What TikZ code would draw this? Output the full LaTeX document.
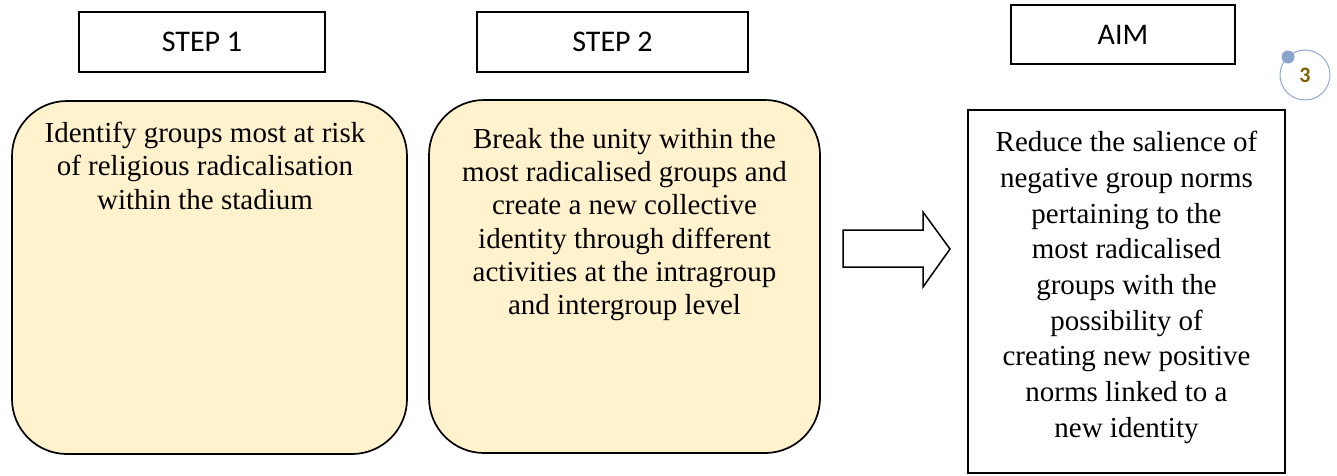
\documentclass[tikz,border=0pt]{standalone}
\usepackage{fontspec}
\setmainfont{Liberation Serif}
\newfontfamily\calib{Carlito}
\definecolor{boxfill}{HTML}{FFF2CC}
\definecolor{ringblue}{RGB}{143,170,215}
\definecolor{dotblue}{RGB}{138,164,204}
\definecolor{numgold}{RGB}{127,96,0}
\tikzset{
  label box/.style={draw=black, line width=1.7pt, fill=white, inner sep=0pt,
    font=\calib\fontsize{30}{36}\selectfont},
  step box/.style={draw=black, line width=1.7pt, fill=boxfill, rounded corners=55pt, inner sep=0pt},
  aim box/.style={draw=black, line width=1.7pt, fill=white, inner sep=0pt},
  body text/.style={inner sep=0pt, align=center, anchor=north, font=\fontsize{29}{33.3}\selectfont},
  aim text/.style={inner sep=0pt, align=center, anchor=north, font=\fontsize{29}{35.7}\selectfont},
}
\begin{document}
\begin{tikzpicture}[x=1pt,y=-1pt]
\useasboundingbox[fill=white] (0,0) rectangle (1337,475);
% header labels
\node[label box, minimum width=246pt, minimum height=60pt] (s1) at (202,42) {STEP 1};
\node[label box, minimum width=271pt, minimum height=60pt] (s2) at (612.5,42) {STEP 2};
\node[label box, minimum width=224pt, minimum height=59pt] (aim) at (1123,34.5) {AIM};
% main boxes
\node[step box, minimum width=395pt, minimum height=353pt] (b1) at (209.5,277.5) {};
\node[step box, minimum width=391pt, minimum height=353pt] (b2) at (624.5,276.5) {};
\node[aim box, minimum width=317pt, minimum height=363pt] (b3) at (1126.5,291.5) {};
% texts
\node[body text] (t1) at (205,122) {Identify groups most at risk\\of religious radicalisation\\within the stadium};
\node[body text] (t2) at (624.5,128) {Break the unity within the\\most radicalised groups and\\create a new collective\\identity through different\\activities at the intragroup\\and intergroup level};
\node[aim text] (t3) at (1126.5,131) {Reduce the salience of\\negative group norms\\pertaining to the\\most radicalised\\groups with the\\possibility of\\creating new positive\\norms linked to a\\new identity};
% block arrow
\draw[line width=1.5pt, fill=white, line join=miter]
  (843,230) -- (923,230) -- (923,212) -- (950,249) -- (923,287) -- (923,267) -- (843,267) -- cycle;
% page number badge
\node[draw=ringblue, line width=1pt, circle, minimum size=50pt, inner sep=0pt,
  font=\calib\bfseries\fontsize{22}{26}\selectfont, text=numgold] (pg) at (1305,75) {3};
\node[circle, fill=dotblue, minimum size=13pt, inner sep=0pt] (pgdot) at (1288,57) {};
\end{tikzpicture}
\end{document}
